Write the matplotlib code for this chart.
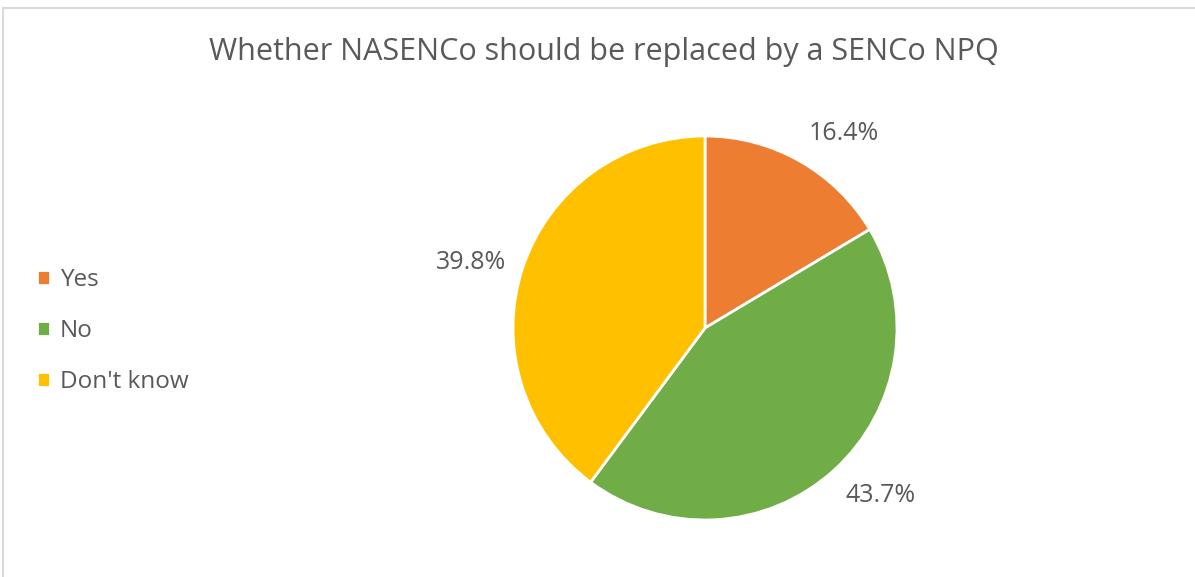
import matplotlib
matplotlib.use("Agg")
import numpy as np
import matplotlib.pyplot as plt
from matplotlib.patches import Rectangle

categories = ["Yes", "No", "Don't know"]
shares = [16.4, 43.7, 39.8]
colors = ["#ED7D31", "#70AD47", "#FFC000"]
title = "Whether NASENCo should be replaced by a SENCo NPQ"

plt.rcParams['font.family'] = ['Open Sans', 'DejaVu Sans']
text_grey = "#595959"

fig = plt.figure(figsize=(11.95, 5.77), dpi=100)

# chart area frame
fig.patches.append(Rectangle((3 / 1195, -0.05), 1.2, (577 - 8) / 577 + 0.05,
                             transform=fig.transFigure, fill=False,
                             edgecolor="#D9D9D9", linewidth=1.5))

W, H = 1195, 577
cx, cy, r = 705, 328, 192
lim = 1.35
side = 2 * r * lim
ax = fig.add_axes([(cx - side / 2) / W, (H - cy - side / 2) / H, side / W, side / H])

wedges, _ = ax.pie(
    shares, colors=colors, startangle=90, counterclock=False,
    wedgeprops=dict(edgecolor="white", linewidth=2))

# outside-end labels, anchored on the side facing the pie
for w, v in zip(wedges, shares):
    ang = np.deg2rad((w.theta1 + w.theta2) / 2)
    x, y = 1.09 * np.cos(ang), 1.09 * np.sin(ang)
    ha = "left" if x > 0 else "right"
    va = "bottom" if y > 0.5 else ("top" if y < -0.5 else "center")
    ax.text(x, y, f"{v:.1f}%", ha=ha, va=va, fontsize=18, color=text_grey)

ax.set_xlim(-lim, lim)
ax.set_ylim(-lim, lim)
ax.set_aspect("equal")
ax.axis("off")

fig.text(604 / W, 1 - 52 / H, title, ha="center", va="center",
         fontsize=22, color=text_grey)

fig.legend(wedges, categories, loc="center left",
           bbox_to_anchor=(15 / W, 1 - 331 / H), frameon=False,
           fontsize=17.5, labelcolor=text_grey, handlelength=0.55,
           handleheight=0.55, handletextpad=0.4, labelspacing=1.12)

fig.savefig("out.png", dpi=100)
